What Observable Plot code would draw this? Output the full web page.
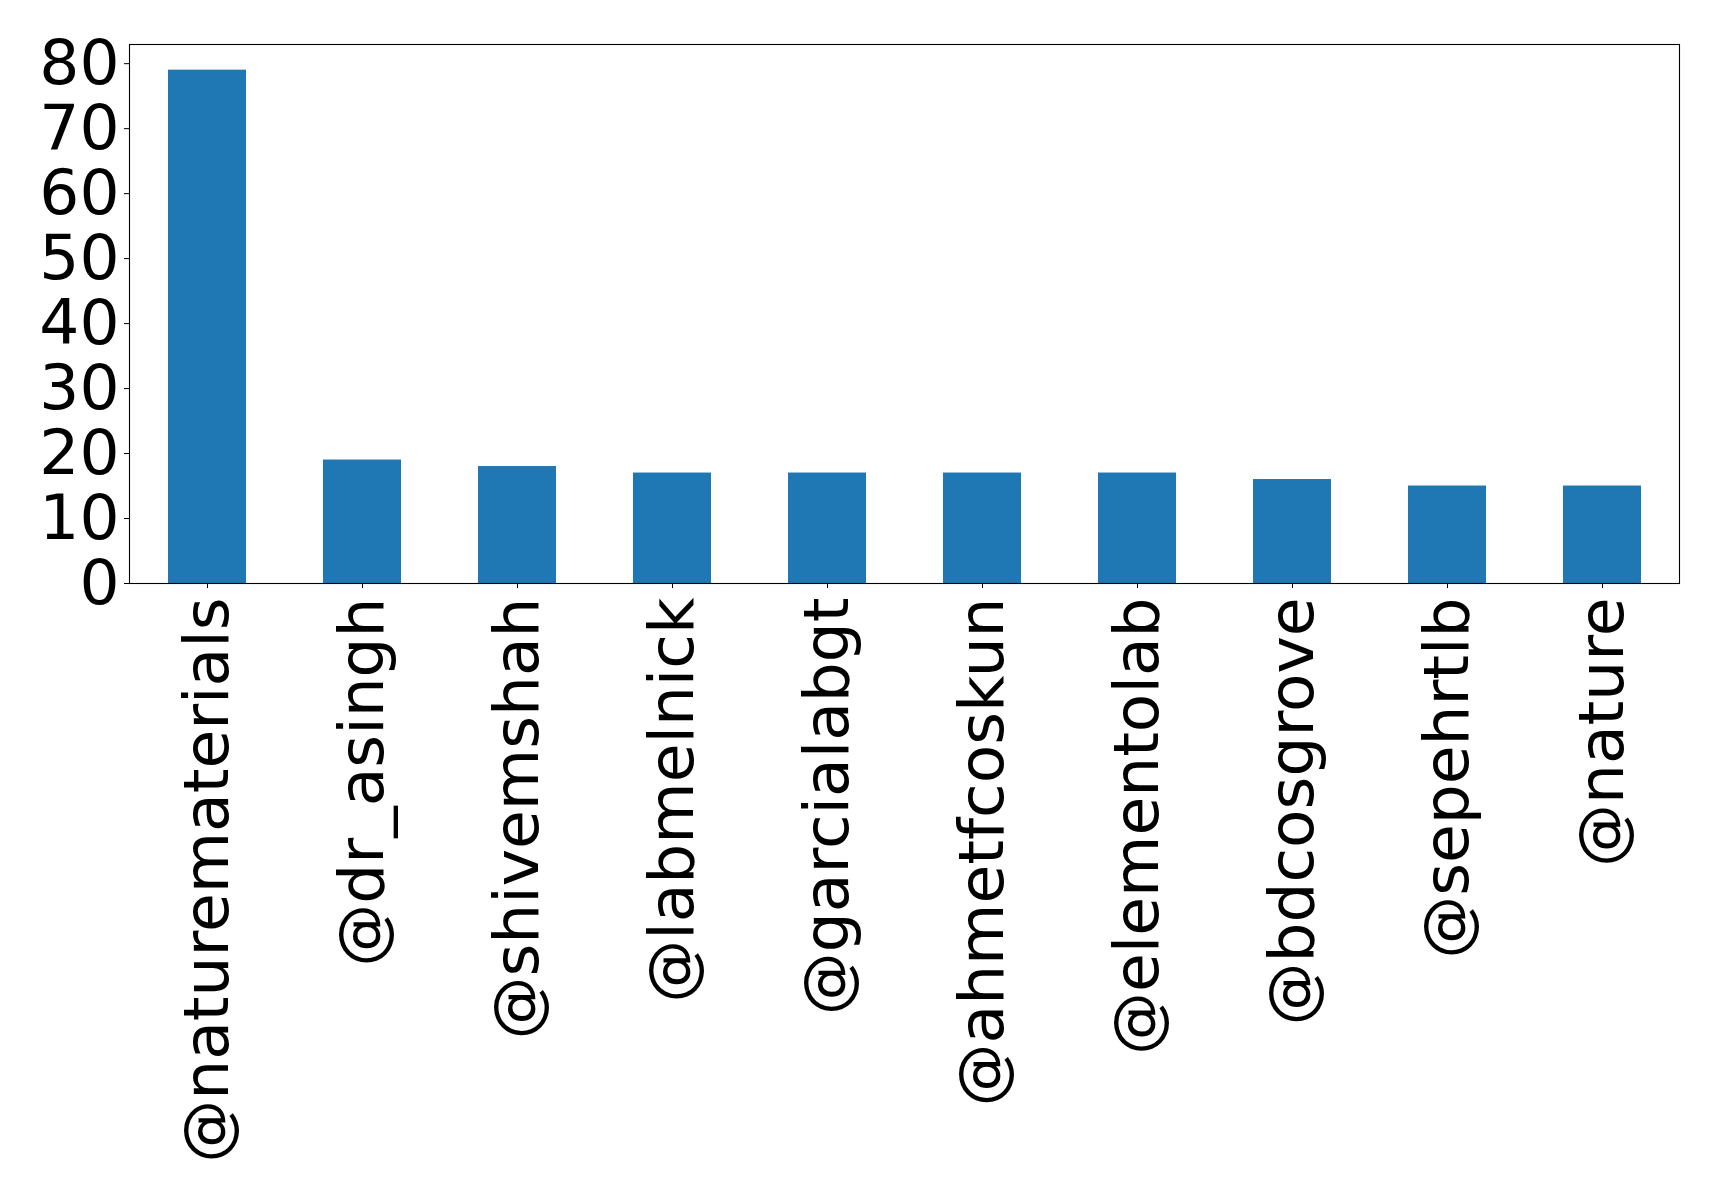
<!DOCTYPE html>
<html><head>
<meta charset="utf-8">
<script src="https://cdn.jsdelivr.net/npm/d3@7"></script>
<script src="https://cdn.jsdelivr.net/npm/@observablehq/plot@0.6"></script>
<style>html,body{margin:0;padding:0;background:#fff;} svg{display:block}</style>
</head><body><div id="chart"></div>
<script>
const accounts = ["@naturematerials", "@dr_asingh", "@shivemshah", "@labmelnick", "@garcialabgt", "@ahmetfcoskun", "@elementolab", "@bdcosgrove", "@sepehrtlb", "@nature"];
const counts = [79, 19, 18, 17, 17, 17, 17, 16, 15, 15];
const yTicks = [0, 10, 20, 30, 40, 50, 60, 70, 80];
const yMax = 82.95;

const data = accounts.map((a, i) => ({account: a, count: counts[i]}));

const chart = Plot.plot({
  width: 1719,
  height: 1193,
  marginLeft: 129,
  marginRight: 40,
  marginTop: 44,
  marginBottom: 610,
  style: {fontFamily: "DejaVu Sans", fontSize: "63px", color: "black", background: "white", overflow: "visible"},
  x: {domain: accounts, paddingInner: 0.5, paddingOuter: 0.25, label: null},
  y: {domain: [0, yMax], label: null},
  marks: [
    Plot.barY(data, {x: "account", y: "count", fill: "#1f77b4"}),
    Plot.frame({stroke: "black", strokeWidth: 1.1}),
    Plot.axisY({ticks: yTicks, tickSize: 5, tickPadding: 5, fontSize: 63, label: null, tickFormat: d => String(d)}),
    Plot.axisX({tickRotate: -90, tickSize: 5, tickPadding: 9, fontSize: 63, label: null})
  ]
});
document.getElementById("chart").appendChild(chart);
</script>
</body></html>
